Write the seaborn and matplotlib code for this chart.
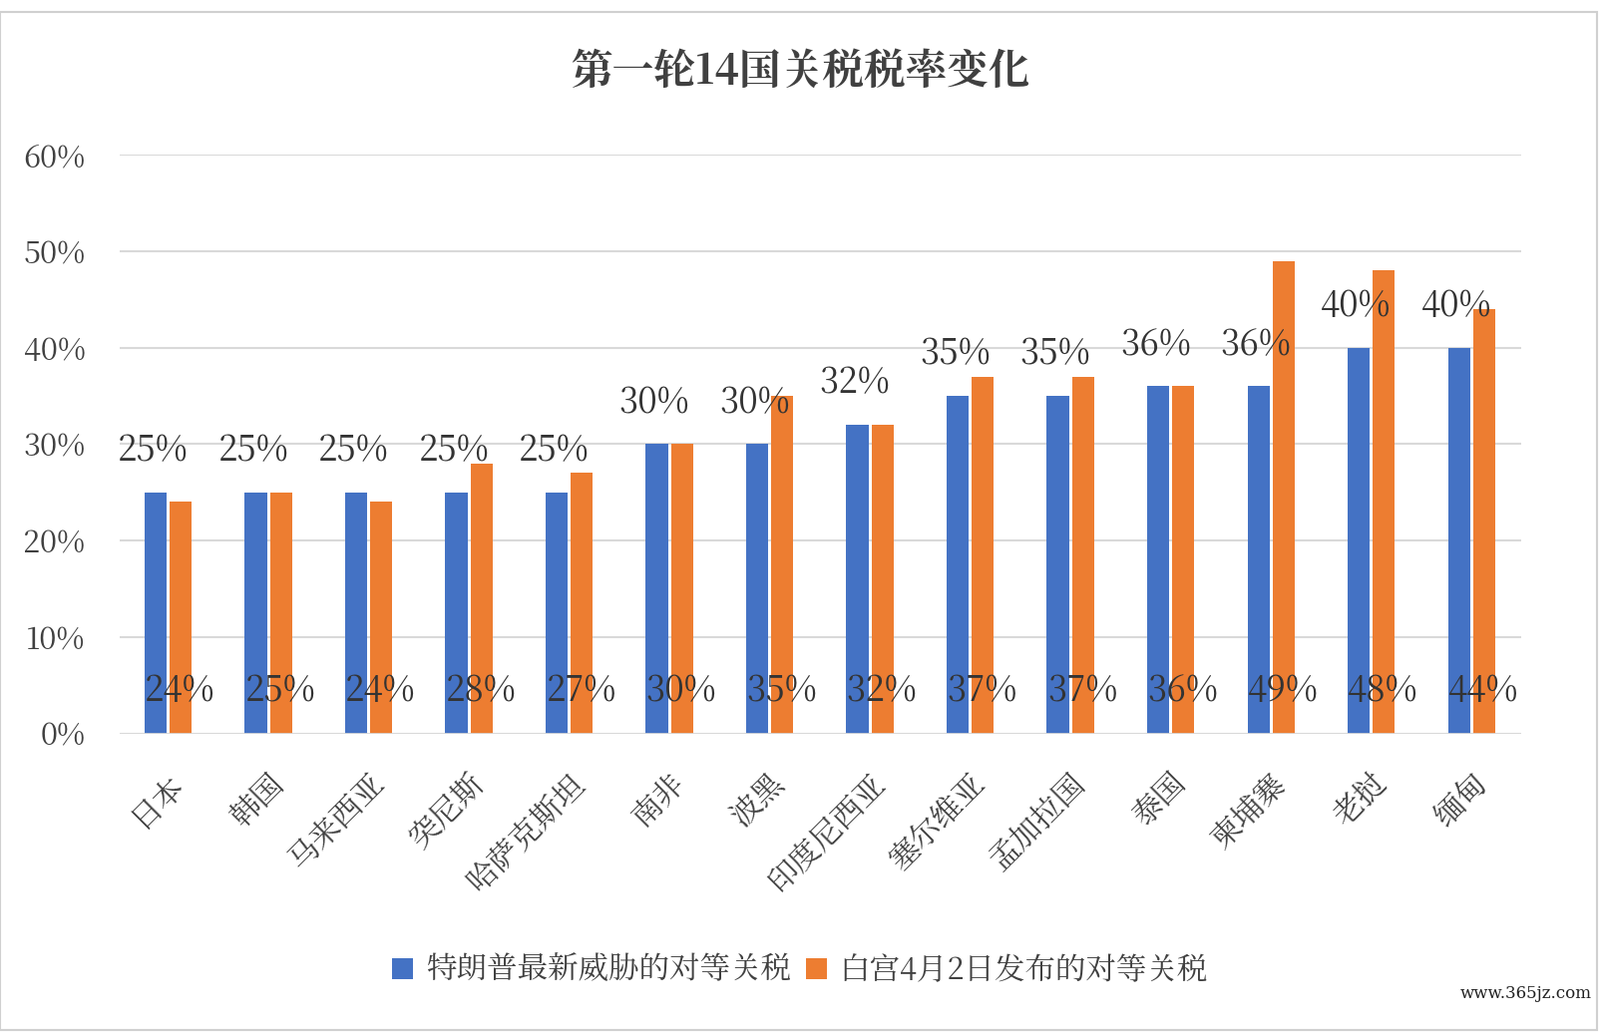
import numpy as np
import pandas as pd
import matplotlib
matplotlib.use("Agg")
import matplotlib.pyplot as plt
from matplotlib import font_manager
import seaborn as sns
from matplotlib.patches import Rectangle

# pick whatever CJK family is actually registered
cjk = [f.name for f in font_manager.fontManager.ttflist if "CJK" in f.name]
pref = [n for n in cjk if n.endswith("SC")] or cjk
plt.rcParams["font.family"] = (pref[:1] if pref else []) + ["DejaVu Sans"]

countries = ["日本", "韩国", "马来西亚", "突尼斯", "哈萨克斯坦", "南非", "波黑", "印度尼西亚",
             "塞尔维亚", "孟加拉国", "泰国", "柬埔寨", "老挝", "缅甸"]
latest = [25, 25, 25, 25, 25, 30, 30, 32, 35, 35, 36, 36, 40, 40]
april = [24, 25, 24, 28, 27, 30, 35, 32, 37, 37, 36, 49, 48, 44]
series = ["特朗普最新威胁的对等关税", "白宫4月2日发布的对等关税"]

df = pd.DataFrame({
    "country": countries * 2,
    "rate": latest + april,
    "series": [series[0]] * len(countries) + [series[1]] * len(countries),
})

fig = plt.figure(figsize=(16.04, 10.36), dpi=100)
ax = fig.add_axes([0.075, 0.29, 0.876, 0.56])
sns.barplot(data=df, x="country", y="rate", hue="series", order=countries,
            palette=["#4472C4", "#ED7D31"], saturation=1, width=0.5, gap=0.12,
            linewidth=0, ax=ax)

ax.set_ylim(0, 60)
ax.set_xlim(-0.48, 13.5)
ax.set_yticks(range(0, 61, 10))
ax.set_yticklabels([f"{v}%" for v in range(0, 61, 10)], fontsize=22, color="#404040")
ax.grid(axis="y", color="#d9d9d9", lw=1.5)
ax.set_axisbelow(True)
for s in ax.spines.values():
    s.set_visible(False)
ax.axhline(0, color="#d9d9d9", lw=2)
ax.tick_params(length=0, pad=25)
ax.set_xlabel("")
ax.set_ylabel("")
ax.set_xticks(range(len(countries)))
ax.set_xticklabels(countries, rotation=45, ha="right", rotation_mode="anchor",
                   fontsize=22, color="#404040")

for i, (a, b) in enumerate(zip(latest, april)):
    ax.text(i - 0.15, a + 4.3, f"{a}%", ha="center", va="center", fontsize=25, color="#333333")
    ax.text(i + 0.12, 4.4, f"{b}%", ha="center", va="center", fontsize=25, color="#333333")

fig.text(0.5, 0.93, "第一轮14国关税税率变化", ha="center", va="center",
         fontsize=30, fontweight="bold", color="#404040")

h, l = ax.get_legend_handles_labels()
ax.legend_.remove()
fig.legend(h, l, loc="center", bbox_to_anchor=(0.5, 0.06), ncol=2, frameon=False,
           fontsize=22, handlelength=0.7, handleheight=0.7, columnspacing=0.5,
           handletextpad=0.4, labelcolor="#404040")

fig.patches.append(Rectangle((0.0, 0.003), 0.998, 0.985, transform=fig.transFigure,
                             fill=False, edgecolor="#d0d0d0", lw=1.5))
fig.text(0.995, 0.038, "www.365jz.com", ha="right", va="center", fontsize=12,
         color="#222222", family="DejaVu Serif")

fig.savefig("out.png", dpi=100)
